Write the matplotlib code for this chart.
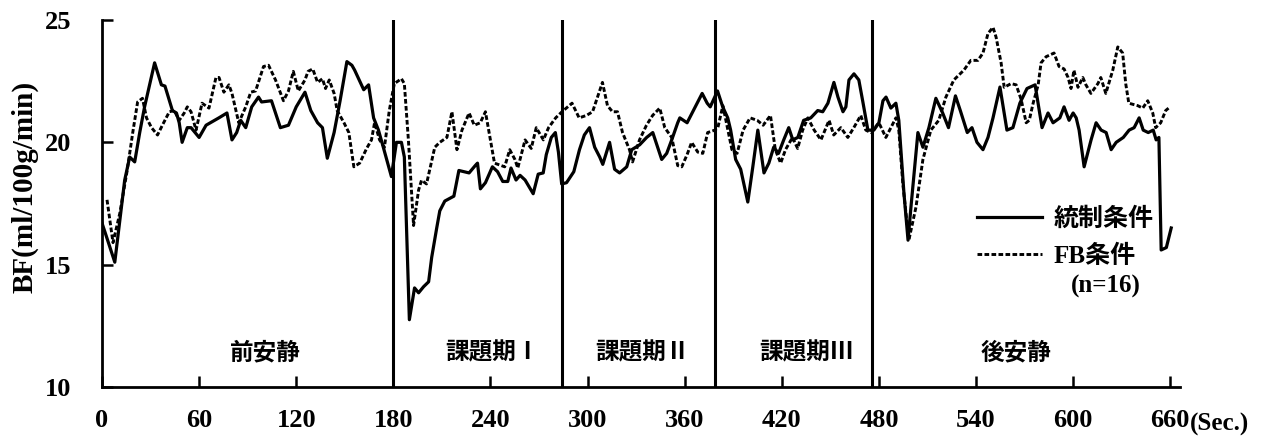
import matplotlib
matplotlib.use("Agg")
import matplotlib.pyplot as plt

# 統制条件 (solid)
t_ctrl = [0, 2, 7.9, 14, 17.1, 20.2, 23.3, 26.3, 32.5, 36.7, 38.9, 43.5, 46, 47.7,
          49.5, 52.7, 55, 60, 64.3, 72.2, 77.2, 80.3, 83.2, 85.7, 88.8, 92.5, 96.7,
          98.6, 104.7, 110.2, 115.2, 120, 125.4, 129, 133.2, 136.2, 139.2, 143.4,
          147.1, 151.3, 154.4, 156.1, 161.7, 164.7, 167.8, 170.8, 173.8, 178.8,
          181.9, 185, 186.8, 189.9, 193.1, 195.6, 198.7, 201.8, 203.7, 206.8, 208.7,
          211.8, 217.4, 220.5, 223.7, 226.8, 230.6, 232, 233.8, 236.9, 241.2, 244.4,
          247.6, 250.7, 252.7, 255.8, 258.3, 261.4, 266.4, 269.5, 272.6, 274.5,
          277.6, 280.1, 282, 284, 287, 291.5, 295, 298, 301.2, 304.4, 307.5, 309.4,
          313.6, 316.7, 319.8, 324.2, 327.3, 332.2, 336.5, 340.3, 345.8, 348.9, 352,
          355.7, 357, 361.5, 364.6, 367.7, 370.8, 373.9, 375.8, 380.3, 383.5, 386.6,
          388.4, 391.5, 394.6, 399, 402.1, 405.2, 409, 412, 415, 418, 421.2, 424.3,
          426.8, 429.9, 433.5, 437.9, 442.2, 445.3, 448.5, 452.2, 454.7, 457.8,
          459.6, 461.5, 464.6, 467.6, 470.1, 473.2, 476.9, 480, 482.5, 484.4, 487.4,
          490.5, 492.3, 495.5, 498, 499.8, 504.1, 507.2, 510.9, 515.2, 519.4, 523,
          527.3, 530.3, 534.6, 537.5, 540.6, 544.3, 547.4, 550.5, 554.8, 559.1,
          562.8, 567.1, 571.5, 576.5, 580.8, 584.5, 587.6, 591.8, 594.4, 597.5, 600,
          601.9, 603.7, 606.8, 611.1, 614.2, 617.3, 620.4, 623.5, 626.6, 631, 634.6,
          637.7, 640.8, 643.3, 646.4, 649.5, 651.3, 653, 654.4, 657.6, 660.6]
bf_ctrl = [16.7, 16.3, 15.1, 18.45, 19.4, 19.2, 20.4, 21.45, 23.25, 22.35, 22.3, 21.3,
           21.2, 20.8, 20.0, 20.6, 20.6, 20.2, 20.7, 21.0, 21.2, 20.1, 20.4, 20.9,
           20.6, 21.45, 21.85, 21.65, 21.7, 20.6, 20.7, 21.45, 22.05, 21.3, 20.8,
           20.6, 19.35, 20.4, 21.7, 23.3, 23.15, 22.95, 22.15, 22.35, 21.0, 20.5,
           19.8, 18.6, 20.0, 20.0, 19.4, 12.75, 14.05, 13.85, 14.1, 14.3, 15.3, 16.5,
           17.2, 17.6, 17.8, 18.85, 18.8, 18.75, 19.05, 19.15, 18.1, 18.35, 19.0,
           18.8, 18.4, 18.4, 18.95, 18.46, 18.65, 18.46, 17.9, 18.7, 18.75, 19.5,
           20.2, 20.4, 19.6, 18.3, 18.35, 18.8, 19.7, 20.3, 20.6, 19.8, 19.4, 19.1,
           20.0, 18.9, 18.75, 19.0, 19.7, 19.9, 20.2, 20.4, 19.3, 19.55, 20.1, 20.8,
           21.0, 20.8, 21.2, 21.6, 22.0, 21.6, 21.45, 22.1, 21.45, 21.0, 20.5, 19.3,
           18.9, 17.56, 19.0, 20.5, 18.75, 19.15, 19.8, 19.55, 20.1, 20.6, 20.1,
           20.2, 20.9, 21.0, 21.3, 21.25, 21.6, 22.45, 21.85, 21.25, 21.45, 22.55,
           22.8, 22.55, 21.65, 20.5, 20.5, 20.8, 21.7, 21.85, 21.4, 21.6, 20.9, 17.9,
           16.0, 17.35, 20.4, 19.8, 20.6, 21.8, 21.2, 20.6, 21.9, 21.3, 20.4, 20.6,
           20.0, 19.7, 20.2, 21.0, 22.26, 20.5, 20.6, 21.6, 22.2, 22.35, 20.6, 21.2,
           20.8, 21.0, 21.45, 20.9, 21.2, 21.0, 20.5, 19.0, 20.1, 20.8, 20.5, 20.4,
           19.7, 20.0, 20.2, 20.5, 20.6, 21.0, 20.5, 20.4, 20.5, 20.1, 20.2, 15.6,
           15.7, 16.5]

# FB条件 (dashed)
t_fb = [3.1, 6.8, 11, 15.3, 19, 22, 25, 27.5, 30.6, 34.3, 37.3, 41.6, 44.6, 47.7,
        50.8, 52.7, 55, 58.1, 61.8, 66.1, 70.4, 72.3, 75.3, 78.4, 80.3, 84.5, 88.8,
        91.9, 94.9, 99.8, 102.9, 107.2, 112.1, 115.2, 118.2, 121.3, 125.4, 127.3,
        130.2, 133.2, 136.2, 138.1, 140.4, 143.4, 145.3, 149.5, 152.5, 155.6, 159.2,
        163.5, 166.5, 168.4, 171.5, 174.5, 177.5, 180.6, 185, 186.8, 189.3, 192.5,
        195.6, 197.4, 200.5, 205.6, 208.7, 213.1, 216.2, 219.3, 222.4, 226.8, 230,
        233.7, 236.9, 242.5, 248.8, 251.9, 255.1, 256.9, 261.4, 265.2, 268.3, 272.7,
        275.9, 280.3, 284.2, 290.4, 294.8, 299.3, 303.1, 309.2, 312.3, 315.4, 318.5,
        321.6, 325.9, 327.8, 332.1, 336.4, 340.2, 344.6, 347.7, 352, 355.7, 358.2,
        361.5, 364.3, 368.1, 371.2, 374.2, 378.7, 380.5, 383.6, 386.1, 389.2, 392.4,
        396.1, 400.4, 404.8, 408.5, 413, 416, 419.3, 422.3, 426.6, 429.8, 432.9,
        436.1, 440, 444.2, 449.2, 452.1, 456.5, 460.8, 464.5, 468.8, 471.9, 475, 480,
        484.3, 487.4, 490.5, 492.3, 494.8, 498.5, 502.9, 507.2, 512.1, 517, 521.4,
        526.3, 532.5, 536.8, 541.2, 544.3, 547.4, 550.5, 552.4, 555.5, 557.4, 561.7,
        564.8, 567.9, 571, 572.9, 575.3, 578.4, 580.2, 583.3, 588.2, 591.3, 594.4,
        596.9, 598.7, 600.5, 603, 606, 607.9, 611, 615.3, 617.1, 620.2, 624.5, 627.6,
        630.6, 632.5, 634.4, 639.9, 643, 646.1, 649.2, 651, 654.1, 657.2, 659]
bf_fb = [17.65, 15.9, 17.1, 18.75, 20.4, 21.65, 21.8, 21.0, 20.6, 20.3, 20.7, 21.25,
         21.3, 20.9, 21.2, 21.45, 21.25, 20.5, 21.6, 21.4, 22.65, 22.65, 22.05, 22.35,
         22.0, 20.8, 21.45, 22.05, 22.1, 23.1, 23.15, 22.55, 21.7, 22.1, 22.9, 22.1,
         22.55, 22.9, 23.0, 22.45, 22.6, 22.2, 22.55, 22.0, 21.3, 20.8, 20.4, 19.0,
         19.15, 19.75, 20.1, 20.8, 20.1, 19.8, 21.3, 22.4, 22.6, 22.4, 20.1, 16.6,
         18.05, 18.45, 18.3, 19.8, 20.0, 20.2, 21.25, 19.7, 20.5, 21.2, 20.7, 20.8,
         21.25, 19.15, 19.0, 19.7, 19.3, 18.95, 20.1, 19.75, 20.6, 20.1, 20.6, 21.0,
         21.25, 21.6, 21.0, 21.1, 21.25, 22.45, 21.5, 21.25, 21.25, 20.4, 19.7, 19.2,
         20.1, 20.7, 21.1, 21.4, 20.6, 20.2, 19.05, 19.0, 19.5, 20.0, 19.6, 19.55,
         20.4, 20.5, 20.6, 21.5, 20.7, 19.7, 19.55, 20.5, 21.0, 20.9, 20.7, 21.1,
         19.7, 19.15, 19.7, 20.2, 19.75, 20.5, 21.0, 20.5, 20.1, 20.9, 20.3, 20.6,
         20.2, 20.6, 21.1, 20.5, 20.4, 20.8, 20.2, 20.6, 21.0, 20.5, 18.3, 16.0,
         17.35, 19.3, 20.5, 20.9, 21.85, 22.55, 22.95, 23.35, 23.35, 23.65, 24.45,
         24.7, 24.3, 23.25, 22.25, 22.4, 22.35, 21.75, 20.8, 20.9, 21.6, 22.35, 23.25,
         23.5, 23.65, 23.1, 23.0, 22.65, 22.2, 22.95, 22.25, 22.65, 22.35, 22.0,
         22.4, 22.65, 22.0, 22.95, 23.9, 23.65, 22.4, 21.6, 21.5, 21.4, 21.7, 21.2,
         20.6, 20.8, 21.3, 21.4]

# 区間の境界と区間名
bounds = [180, 284, 379, 476]
period_names = ["前安静", "課題期Ⅰ", "課題期Ⅱ", "課題期Ⅲ", "後安静"]
period_pos = [101, 241, 334, 435, 565]

xticks = list(range(0, 661, 60))
yticks = [10, 15, 20, 25]

serif = ["Liberation Serif", "Noto Sans CJK JP"]
gothic = ["Noto Sans CJK JP", "DejaVu Sans"]

fig = plt.figure(figsize=(12.64, 4.36), dpi=100)
ax = fig.add_axes([0.0807, 0.1124, 0.8528, 0.8417])

line_c, = ax.plot(t_ctrl, bf_ctrl, color="black", lw=2.3, label="統制条件")
line_f, = ax.plot(t_fb, bf_fb, color="black", lw=2.1, ls=(0, (1.6, 0.8)),
                  label="FB条件")

for b in bounds:
    ax.axvline(b, color="black", lw=2.2)

for name, p in zip(period_names, period_pos):
    ax.text(p, 11.4, name, ha="center", va="center", family=gothic,
            fontsize=17, fontweight="bold")

ax.set_xlim(0, 666)
ax.set_ylim(10, 25)
ax.set_xticks(xticks)
ax.set_yticks(yticks)

for s in ["top", "right"]:
    ax.spines[s].set_visible(False)
for s in ["left", "bottom"]:
    ax.spines[s].set_linewidth(2.0)

ax.tick_params(axis="both", direction="in", length=8, width=1.8)
ax.tick_params(axis="x", pad=16)
ax.tick_params(axis="y", pad=22)
for lab in ax.get_xticklabels() + ax.get_yticklabels():
    lab.set_fontfamily(serif)
    lab.set_fontsize(19)
    lab.set_fontweight("bold")

ax.text(672, 8.45, "(Sec.)", ha="left", va="center", family=serif,
        fontsize=18, fontweight="bold", clip_on=False)

fig.text(25 / 1264, 1 - 187 / 436, "BF(ml/100g/min)", rotation=90,
         ha="center", va="center", family=serif, fontsize=21, fontweight="bold")

leg = ax.legend(handles=[line_c, line_f], loc="upper left",
                bbox_to_anchor=(0.8117, 0.49), frameon=False, borderpad=0,
                borderaxespad=0, handlelength=2.6, handletextpad=0.45,
                labelspacing=0.55, prop={"family": serif, "size": 18,
                                         "weight": "bold"})

ax.text(620, 14.1, "(n=16)", ha="center", va="center", family=serif,
        fontsize=18, fontweight="bold")

fig.savefig("out.png", dpi=100)
